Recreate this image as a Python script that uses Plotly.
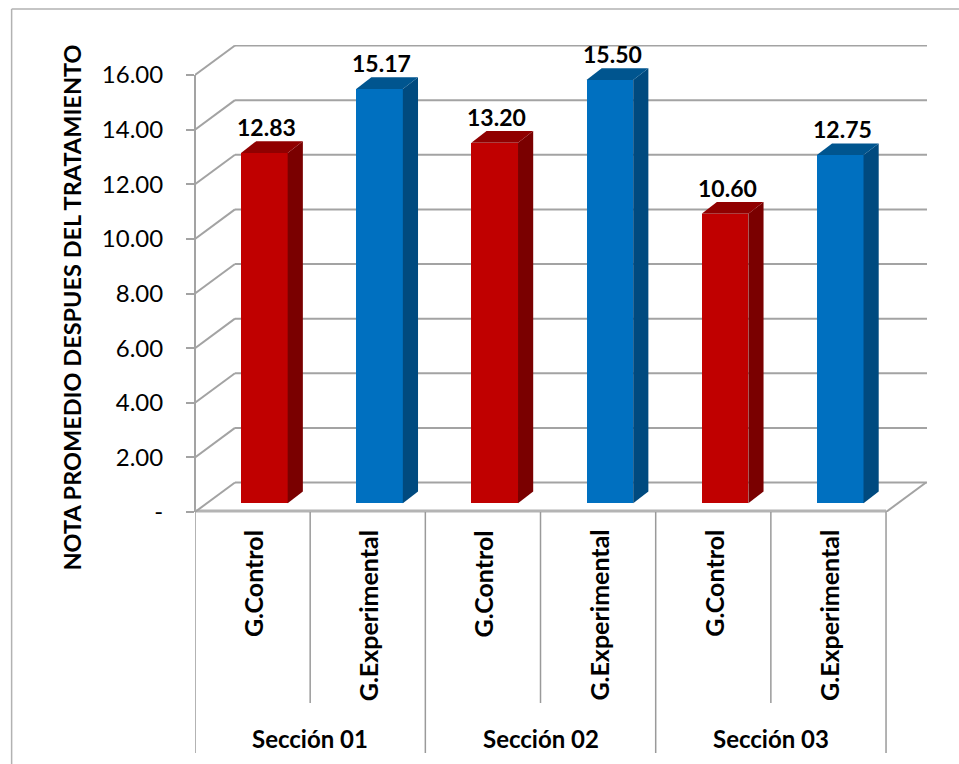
import plotly.graph_objects as go

sections = ["Sección 01", "Sección 02", "Sección 03"]
groups = ["G.Control", "G.Experimental"] * 3
values = [12.83, 15.17, 13.20, 15.50, 10.60, 12.75]
value_labels = ["12.83", "15.17", "13.20", "15.50", "10.60", "12.75"]
tick_values = [0, 2, 4, 6, 8, 10, 12, 14, 16]
tick_labels = ["-", "2.00", "4.00", "6.00", "8.00", "10.00", "12.00", "14.00", "16.00"]
y_title = "NOTA PROMEDIO DESPUES DEL TRATAMIENTO"

W, H = 959, 764
FONT = "Lato"
GRID = "#a3a3a3"

# Pixel geometry of the pseudo-3D box
LEFT, RIGHT, TOP, FLOOR = 194.5, 927, 45, 512
CAT_PX = 115.25
UNIT_PX = 27.31
x_max = (RIGHT - LEFT) / CAT_PX
y_max = (FLOOR - TOP) / UNIT_PX
n_cats = len(groups)

# Wall depth and bar depth, in axis units
WALL_DX, WALL_DY = 40 / CAT_PX, 29.5 / UNIT_PX
BAR_DX, BAR_DY = 15.2 / CAT_PX, 11.7 / UNIT_PX
BAR_W = 46.7 / CAT_PX
BAR_SHIFT = 0.102
BAR_BASE = 8.7 / UNIT_PX

FRONT = {"G.Control": "#c00000", "G.Experimental": "#0070c0"}
SIDE = {"G.Control": "#7a0000", "G.Experimental": "#004a7f"}
LID = {"G.Control": "#900000", "G.Experimental": "#00558f"}


def px_y(py):
    """Paper coordinate of a pixel row."""
    return 1 - (py - TOP) / (H - TOP - (H - FLOOR))


def px_x(px):
    """Paper coordinate of a pixel column."""
    return (px - LEFT) / (RIGHT - LEFT)


centers = [i + 0.5 + BAR_SHIFT for i in range(n_cats)]
fig = go.Figure()

# Front faces of the bars
fig.add_trace(go.Bar(
    x=centers,
    y=values,
    base=[BAR_BASE] * n_cats,
    width=BAR_W,
    marker=dict(color=[FRONT[g] for g in groups], line=dict(width=0)),
    hoverinfo="skip",
    showlegend=False,
))

# Side and top faces, offset from each bar's value
for cx, val, grp in zip(centers, values, groups):
    r = cx + BAR_W / 2
    l = cx - BAR_W / 2
    b = BAR_BASE
    t = BAR_BASE + val
    fig.add_trace(go.Scatter(
        x=[r, r + BAR_DX, r + BAR_DX, r, r],
        y=[b, b + BAR_DY, t + BAR_DY, t, b],
        mode="lines", fill="toself", fillcolor=SIDE[grp],
        line=dict(width=0), hoverinfo="skip", showlegend=False,
    ))
    fig.add_trace(go.Scatter(
        x=[l, l + BAR_DX, r + BAR_DX, r, l],
        y=[t, t + BAR_DY, t + BAR_DY, t, t],
        mode="lines", fill="toself", fillcolor=LID[grp],
        line=dict(width=0), hoverinfo="skip", showlegend=False,
    ))

shapes = []
grid_line = dict(color=GRID, width=2)

# Back wall and side wall gridlines
for tv in tick_values:
    shapes.append(dict(type="line", layer="below", xref="x", yref="y",
                       x0=WALL_DX, x1=x_max, y0=tv + WALL_DY, y1=tv + WALL_DY,
                       line=grid_line))
    shapes.append(dict(type="line", layer="below", xref="x", yref="y",
                       x0=0, x1=WALL_DX, y0=tv, y1=tv + WALL_DY,
                       line=grid_line))

# Left edge, front floor edge and right floor edge
shapes.append(dict(type="line", layer="below", xref="paper", yref="y",
                   x0=0, x1=0, y0=0, y1=tick_values[-1], line=grid_line))
shapes.append(dict(type="line", layer="below", xref="x", yref="paper",
                   x0=0, x1=n_cats, y0=0.002, y1=0.002,
                   line=dict(color="#b4b4b4", width=3)))
shapes.append(dict(type="line", layer="below", xref="x", yref="y",
                   x0=n_cats, x1=n_cats + WALL_DX, y0=0, y1=WALL_DY,
                   line=grid_line))

# Two-level category separators below the axis
sep_line = dict(color="#9a9a9a", width=1.5)
for i in range(n_cats + 1):
    bottom = 753 if i % 2 == 0 else 703
    shapes.append(dict(type="line", xref="x", yref="paper",
                       x0=i, x1=i, y0=px_y(FLOOR), y1=px_y(bottom), line=sep_line))

# Chart frame
frame = dict(color="#b2b2b2", width=1.5)
shapes.append(dict(type="line", xref="paper", yref="paper",
                   x0=px_x(11), x1=px_x(11), y0=px_y(9), y1=px_y(H), line=frame))
shapes.append(dict(type="line", xref="paper", yref="paper",
                   x0=px_x(11), x1=px_x(W), y0=px_y(9), y1=px_y(9), line=frame))

annotations = []

# Value labels above the bars
for cx, val, txt in zip(centers, values, value_labels):
    annotations.append(dict(
        x=cx + 0.02, y=BAR_BASE + val, xref="x", yref="y", text=f"<b>{txt}</b>",
        showarrow=False, yshift=26, xanchor="center", yanchor="middle",
        font=dict(family=FONT, size=23, color="black"),
    ))

# Rotated group labels
for i, grp in enumerate(groups):
    annotations.append(dict(
        x=i + 0.5, y=px_y(528), xref="x", yref="paper", text=f"<b>{grp}</b>",
        textangle=-90, showarrow=False, xanchor="center", yanchor="top",
        font=dict(family=FONT, size=25, color="black"),
    ))

# Section labels
for i, sec in enumerate(sections):
    annotations.append(dict(
        x=2 * i + 1, y=px_y(738), xref="x", yref="paper", text=f"<b>{sec}</b>",
        showarrow=False, xanchor="center", yanchor="middle",
        font=dict(family=FONT, size=24, color="black"),
    ))

# Value axis title
annotations.append(dict(
    x=px_x(71), y=px_y(308), xref="paper", yref="paper", text=f"<b>{y_title}</b>",
    textangle=-90, showarrow=False, xanchor="center", yanchor="middle",
    font=dict(family=FONT, size=23.5, color="black"),
))

fig.update_layout(
    width=W, height=H, autosize=False,
    margin=dict(l=LEFT, r=W - RIGHT, t=TOP, b=H - FLOOR, pad=0),
    paper_bgcolor="white", plot_bgcolor="white",
    bargap=0, showlegend=False,
    shapes=shapes, annotations=annotations,
    xaxis=dict(range=[0, x_max], visible=False, fixedrange=True),
    yaxis=dict(
        range=[0, y_max], tickmode="array", tickvals=tick_values, ticktext=tick_labels,
        showgrid=False, zeroline=False, showline=False,
        ticks="outside", ticklen=8, tickwidth=1.5, tickcolor=GRID,
        ticklabelstandoff=18,
        tickfont=dict(family=FONT, size=24, color="black"), fixedrange=True,
    ),
)

fig.write_html("out.html", config=dict(displayModeBar=False))
